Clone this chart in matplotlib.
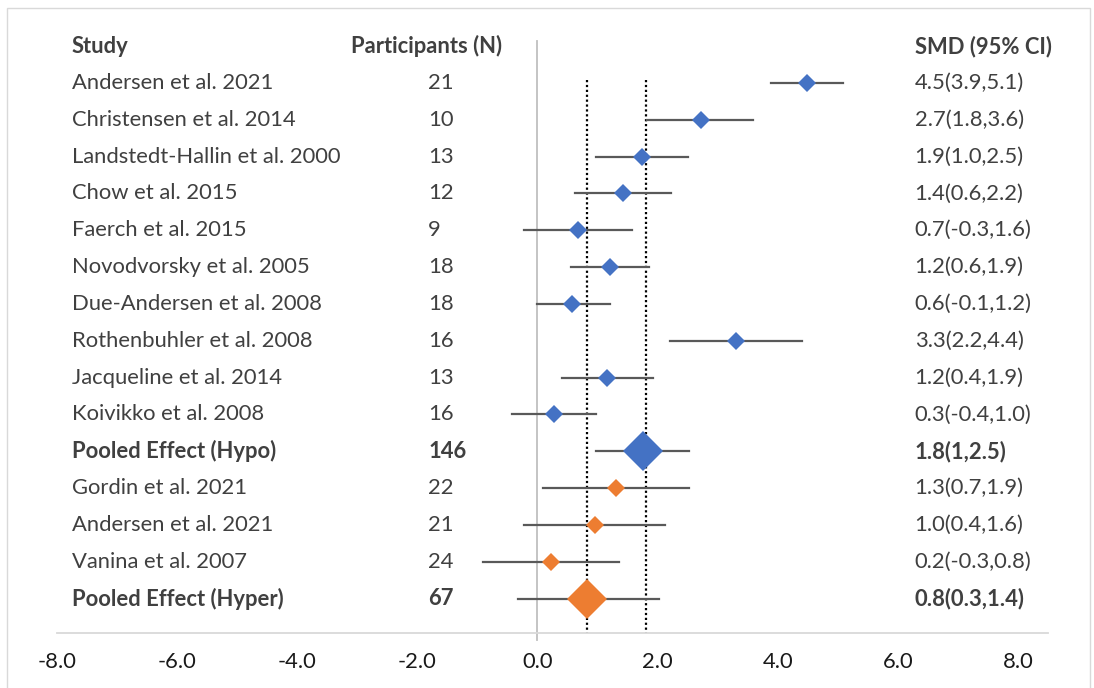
import matplotlib
matplotlib.use("Agg")
import matplotlib.pyplot as plt
from matplotlib.patches import Rectangle

plt.rcParams['font.family'] = ['Lato', 'DejaVu Sans']

studies = ['Andersen et al. 2021', 'Christensen et al. 2014', 'Landstedt-Hallin et al. 2000',
           'Chow et al. 2015', 'Faerch et al. 2015', 'Novodvorsky et al. 2005',
           'Due-Andersen et al. 2008', 'Rothenbuhler et al. 2008', 'Jacqueline et al. 2014',
           'Koivikko et al. 2008', 'Pooled Effect (Hypo)', 'Gordin et al. 2021',
           'Andersen et al. 2021', 'Vanina et al. 2007', 'Pooled Effect (Hyper)']
participants = ['21', '10', '13', '12', '9', '18', '18', '16', '13', '16', '146',
                '22', '21', '24', '67']
smd_text = ['4.5(3.9,5.1)', '2.7(1.8,3.6)', '1.9(1.0,2.5)', '1.4(0.6,2.2)', '0.7(-0.3,1.6)',
            '1.2(0.6,1.9)', '0.6(-0.1,1.2)', '3.3(2.2,4.4)', '1.2(0.4,1.9)', '0.3(-0.4,1.0)',
            '1.8(1,2.5)', '1.3(0.7,1.9)', '1.0(0.4,1.6)', '0.2(-0.3,0.8)', '0.8(0.3,1.4)']
# plotted points and whiskers
smd = [4.48, 2.72, 1.74, 1.42, 0.68, 1.2, 0.58, 3.3, 1.15, 0.27, 1.76,
       1.3, 0.95, 0.23, 0.83]
ci_low = [3.88, 1.83, 0.97, 0.62, -0.22, 0.55, 0.0, 2.2, 0.4, -0.43, 0.98,
          0.1, -0.22, -0.9, -0.33]
ci_high = [5.08, 3.58, 2.5, 2.22, 1.58, 1.85, 1.2, 4.4, 1.93, 0.97, 2.53,
           2.52, 2.13, 1.36, 2.02]
group = ['hypo'] * 11 + ['hyper'] * 4
pooled = [False] * 10 + [True] + [False] * 3 + [True]
ref_lines = [0.83, 1.8]
xticks = [-8, -6, -4, -2, 0, 2, 4, 6, 8]

colors = {'hypo': '#4472C4', 'hyper': '#ED7D31'}
txt = '#404040'
fs = 15.8

fig = plt.figure(figsize=(10.94, 6.88), dpi=100)
fig.patches.append(Rectangle((7 / 1094, -0.02), (1090 - 7) / 1094, 1.02 - 8 / 688,
                             transform=fig.transFigure, fill=False,
                             edgecolor='#D9D9D9', linewidth=1))
ax = fig.add_axes([57 / 1094, 55 / 688, (1048 - 57) / 1094, (633 - 41) / 688])
ax.set_xlim(-8, 8.5)
ax.set_ylim(15.93, -0.136)

rows = list(range(1, len(studies) + 1))

# zero line (vertical axis) and dotted pooled lines
ax.plot([0, 0], [-0.136, 16.12], color='#BFBFBF', lw=1.3, clip_on=False, zorder=1)
for r in ref_lines:
    ax.plot([r, r], [0.92, 15.93], color='black', lw=1.6, ls=(0, (1, 1.2)), zorder=2)

for i, y in enumerate(rows):
    ax.plot([ci_low[i], ci_high[i]], [y, y], color='#595959', lw=1.6, zorder=3)
    ax.plot(smd[i], y, marker='D', ms=20 if pooled[i] else 9.5, color=colors[group[i]],
            mec=colors[group[i]], mew=0, zorder=4)
    w = 'bold' if pooled[i] else 'normal'
    ax.text(-7.75, y, studies[i], ha='left', va='center', fontsize=fs, color=txt, fontweight=w)
    ax.text(-1.82, y, participants[i], ha='left', va='center', fontsize=fs, color=txt, fontweight=w)
    ax.text(6.28, y, smd_text[i], ha='left', va='center', fontsize=fs, color=txt, fontweight=w)

ax.text(-7.75, 0, 'Study', ha='left', va='center', fontsize=fs, color=txt, fontweight='bold')
ax.text(-3.1, 0, 'Participants (N)', ha='left', va='center', fontsize=fs, color=txt, fontweight='bold')
ax.text(6.28, 0, 'SMD (95% CI)', ha='left', va='center', fontsize=fs, color=txt, fontweight='bold')

ax.set_xticks(xticks)
ax.set_xticklabels([f'{t:.1f}' for t in xticks])
ax.tick_params(axis='x', length=0, pad=14, labelsize=fs, labelcolor='#1a1a1a')
ax.set_yticks([])
for s in ['top', 'right', 'left']:
    ax.spines[s].set_visible(False)
ax.spines['bottom'].set_color('#D9D9D9')
ax.spines['bottom'].set_linewidth(1.3)

fig.savefig('out.png', dpi=100)
